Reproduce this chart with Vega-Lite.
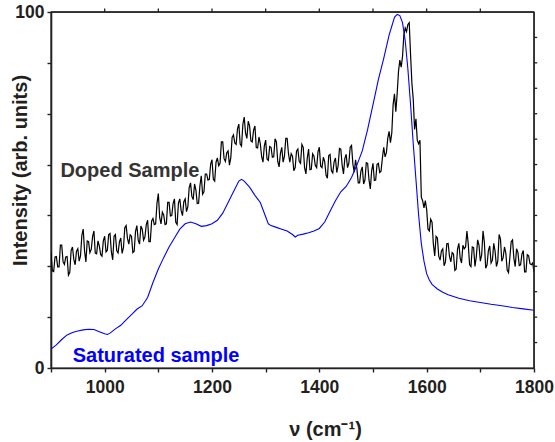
{
  "$schema": "https://vega.github.io/schema/vega-lite/v6.json",
  "width": 483,
  "height": 356,
  "autosize": {"type": "none"},
  "padding": {"left": 51, "top": 12, "right": 21, "bottom": 74},
  "background": "white",
  "config": {
    "view": {"stroke": "#222222", "strokeWidth": 1.4},
    "font": "Liberation Sans",
    "axis": {
      "grid": false,
      "domainColor": "#222222",
      "domainWidth": 1.6,
      "tickColor": "#222222",
      "tickWidth": 1.4,
      "tickSize": 4,
      "labelFont": "Liberation Sans",
      "labelFontWeight": "bold",
      "labelFontSize": 17.5,
      "labelColor": "#231f20",
      "labelOverlap": false,
      "labelFlush": false,
      "labelBound": false,
      "titleFont": "Liberation Sans",
      "titleFontWeight": "bold",
      "titleFontSize": 20,
      "titleColor": "#231f20"
    }
  },
  "datasets": {
    "doped": [
      {"x":900,"y":32.5},{"x":905,"y":27.1},{"x":910,"y":31.3},{"x":915,"y":28.4},{"x":920,"y":34.5},{"x":925,"y":29.1},{"x":930,"y":31.3},{"x":935,"y":26.9},{"x":940,"y":34},{"x":945,"y":29},
      {"x":950,"y":33.5},{"x":955,"y":31.5},{"x":960,"y":39},{"x":965,"y":29.8},{"x":970,"y":35.5},{"x":975,"y":33.3},{"x":980,"y":38.5},{"x":985,"y":32.1},{"x":990,"y":34.3},{"x":995,"y":31.4},
      {"x":1000,"y":37},{"x":1005,"y":33.1},{"x":1010,"y":37.8},{"x":1015,"y":30.4},{"x":1020,"y":37.5},{"x":1025,"y":32.3},{"x":1030,"y":36.5},{"x":1035,"y":33.8},{"x":1040,"y":40},{"x":1045,"y":34.8},
      {"x":1050,"y":37},{"x":1055,"y":32.8},{"x":1060,"y":40},{"x":1065,"y":34.8},{"x":1070,"y":39},{"x":1075,"y":36.8},{"x":1080,"y":41.5},{"x":1085,"y":35.5},{"x":1090,"y":42},{"x":1095,"y":40.5},
      {"x":1100,"y":49},{"x":1105,"y":40.5},{"x":1110,"y":43},{"x":1115,"y":40.5},{"x":1120,"y":46.5},{"x":1125,"y":42.8},{"x":1130,"y":47.5},{"x":1135,"y":40.3},{"x":1140,"y":47.5},{"x":1145,"y":42.8},
      {"x":1150,"y":47.5},{"x":1155,"y":45.3},{"x":1160,"y":52},{"x":1165,"y":47.3},{"x":1170,"y":50},{"x":1175,"y":46.3},{"x":1180,"y":54},{"x":1185,"y":49.5},{"x":1190,"y":54.5},{"x":1195,"y":53},
      {"x":1200,"y":58.5},{"x":1205,"y":52.5},{"x":1210,"y":59},{"x":1215,"y":57.5},{"x":1220,"y":63.5},{"x":1225,"y":58},{"x":1230,"y":61},{"x":1235,"y":59},{"x":1240,"y":65.5},{"x":1245,"y":62.8},
      {"x":1250,"y":68.5},{"x":1255,"y":62.3},{"x":1260,"y":70.5},{"x":1265,"y":64.5},{"x":1270,"y":68},{"x":1275,"y":63.5},{"x":1280,"y":68},{"x":1285,"y":61.8},{"x":1290,"y":63},{"x":1295,"y":57.8},
      {"x":1300,"y":64},{"x":1305,"y":58.3},{"x":1310,"y":62},{"x":1315,"y":59.3},{"x":1320,"y":63.5},{"x":1325,"y":56.5},{"x":1330,"y":62},{"x":1335,"y":59.5},{"x":1340,"y":64.5},{"x":1345,"y":57.8},
      {"x":1350,"y":59.5},{"x":1355,"y":56.3},{"x":1360,"y":61.5},{"x":1365,"y":57.5},{"x":1370,"y":62},{"x":1375,"y":54.5},{"x":1380,"y":61.5},{"x":1385,"y":55.8},{"x":1390,"y":59.5},{"x":1395,"y":56.3},
      {"x":1400,"y":62},{"x":1405,"y":56.3},{"x":1410,"y":58},{"x":1415,"y":53.3},{"x":1420,"y":60},{"x":1425,"y":54.8},{"x":1430,"y":59},{"x":1435,"y":56.8},{"x":1440,"y":61.5},{"x":1445,"y":54.5},
      {"x":1450,"y":60},{"x":1455,"y":57.5},{"x":1460,"y":62.5},{"x":1465,"y":55},{"x":1470,"y":56},{"x":1475,"y":52},{"x":1480,"y":56.5},{"x":1485,"y":52.8},{"x":1490,"y":57.5},{"x":1495,"y":50.3},
      {"x":1500,"y":57.5},{"x":1505,"y":52.8},{"x":1510,"y":57.5},{"x":1515,"y":55.3},{"x":1520,"y":62},{"x":1525,"y":60.5},{"x":1530,"y":66.5},{"x":1535,"y":66},{"x":1540,"y":77},{"x":1545,"y":77},
      {"x":1550,"y":86.5},{"x":1555,"y":87.5},{"x":1560,"y":95.5},{"x":1565,"y":96.5},{"x":1570,"y":88},{"x":1575,"y":75.5},{"x":1580,"y":70},{"x":1585,"y":63},{"x":1590,"y":48},{"x":1595,"y":45},
      {"x":1600,"y":44.5},{"x":1605,"y":38.5},{"x":1610,"y":41},{"x":1615,"y":31.5},{"x":1620,"y":36.5},{"x":1625,"y":30.3},{"x":1630,"y":33.5},{"x":1635,"y":29.8},{"x":1640,"y":35},{"x":1645,"y":29.8},
      {"x":1650,"y":32},{"x":1655,"y":27.8},{"x":1660,"y":35},{"x":1665,"y":29.5},{"x":1670,"y":33.5},{"x":1675,"y":38.5},{"x":1680,"y":29},{"x":1685,"y":34},{"x":1690,"y":28.5},{"x":1695,"y":36},
      {"x":1700,"y":30},{"x":1705,"y":38.5},{"x":1710,"y":28},{"x":1715,"y":33},{"x":1720,"y":29.5},{"x":1725,"y":35},{"x":1730,"y":28.5},{"x":1735,"y":37.5},{"x":1740,"y":30},{"x":1745,"y":34},
      {"x":1750,"y":27.5},{"x":1755,"y":31},{"x":1760,"y":36},{"x":1765,"y":28.5},{"x":1770,"y":32.5},{"x":1775,"y":29},{"x":1780,"y":33},{"x":1785,"y":27},{"x":1790,"y":31.5},{"x":1795,"y":29},{"x":1800,"y":27},
      {"x":902.5,"y":27.3},{"x":907.5,"y":31.2},{"x":912.5,"y":28.4},{"x":917.5,"y":34.5},{"x":922.5,"y":29.8},{"x":927.5,"y":31.2},{"x":932.5,"y":26.1},{"x":937.5,"y":33},{"x":942.5,"y":30.5},{"x":947.5,"y":32.8},
      {"x":952.5,"y":30},{"x":957.5,"y":37.3},{"x":962.5,"y":32.9},{"x":967.5,"y":35.7},{"x":972.5,"y":32.4},{"x":977.5,"y":36.9},{"x":982.5,"y":32.3},{"x":987.5,"y":35.7},{"x":992.5,"y":31.9},{"x":997.5,"y":35.7},
      {"x":1002.5,"y":32.6},{"x":1007.5,"y":37.5},{"x":1012.5,"y":32.6},{"x":1017.5,"y":37},{"x":1022.5,"y":32.9},{"x":1027.5,"y":35.4},{"x":1032.5,"y":32.2},{"x":1037.5,"y":39.4},{"x":1042.5,"y":36.4},{"x":1047.5,"y":37.4},
      {"x":1052.5,"y":32.4},{"x":1057.5,"y":38.4},{"x":1062.5,"y":35.9},{"x":1067.5,"y":39.9},{"x":1072.5,"y":35.9},{"x":1077.5,"y":40.2},{"x":1082.5,"y":35.5},{"x":1087.5,"y":41.3},{"x":1092.5,"y":40.3},{"x":1097.5,"y":46.3},
      {"x":1102.5,"y":42.3},{"x":1107.5,"y":43.8},{"x":1112.5,"y":40.3},{"x":1117.5,"y":46.5},{"x":1122.5,"y":42.7},{"x":1127.5,"y":46.2},{"x":1132.5,"y":40.9},{"x":1137.5,"y":46.4},{"x":1142.5,"y":44.2},{"x":1147.5,"y":46.7},
      {"x":1152.5,"y":43.9},{"x":1157.5,"y":50.7},{"x":1162.5,"y":48.2},{"x":1167.5,"y":51.7},{"x":1172.5,"y":46.2},{"x":1177.5,"y":51.2},{"x":1182.5,"y":48.8},{"x":1187.5,"y":54.5},{"x":1192.5,"y":52.8},{"x":1197.5,"y":57.3},
      {"x":1202.5,"y":53},{"x":1207.5,"y":57.8},{"x":1212.5,"y":56.8},{"x":1217.5,"y":63.5},{"x":1222.5,"y":58.8},{"x":1227.5,"y":60.5},{"x":1232.5,"y":57},{"x":1237.5,"y":64.8},{"x":1242.5,"y":63.2},{"x":1247.5,"y":67.2},
      {"x":1252.5,"y":62.9},{"x":1257.5,"y":68.4},{"x":1262.5,"y":66},{"x":1267.5,"y":69.3},{"x":1272.5,"y":63.8},{"x":1277.5,"y":66.8},{"x":1282.5,"y":61.9},{"x":1287.5,"y":64.9},{"x":1292.5,"y":59.4},{"x":1297.5,"y":62.4},
      {"x":1302.5,"y":58.7},{"x":1307.5,"y":62.2},{"x":1312.5,"y":59.2},{"x":1317.5,"y":64.4},{"x":1322.5,"y":58},{"x":1327.5,"y":60.3},{"x":1332.5,"y":57.8},{"x":1337.5,"y":64.5},{"x":1342.5,"y":60.2},{"x":1347.5,"y":60.2},
      {"x":1352.5,"y":55.4},{"x":1357.5,"y":60.9},{"x":1362.5,"y":58},{"x":1367.5,"y":62.8},{"x":1372.5,"y":56.3},{"x":1377.5,"y":59},{"x":1382.5,"y":55.7},{"x":1387.5,"y":60.2},{"x":1392.5,"y":56.9},{"x":1397.5,"y":60.7},
      {"x":1402.5,"y":56.7},{"x":1407.5,"y":59.2},{"x":1412.5,"y":54.2},{"x":1417.5,"y":59.7},{"x":1422.5,"y":55.4},{"x":1427.5,"y":57.9},{"x":1432.5,"y":54.9},{"x":1437.5,"y":61.7},{"x":1442.5,"y":57},{"x":1447.5,"y":58.8},
      {"x":1452.5,"y":56.3},{"x":1457.5,"y":62},{"x":1462.5,"y":57.3},{"x":1467.5,"y":58.5},{"x":1472.5,"y":52},{"x":1477.5,"y":55.3},{"x":1482.5,"y":51.7},{"x":1487.5,"y":57.7},{"x":1492.5,"y":52.9},{"x":1497.5,"y":55.4},
      {"x":1502.5,"y":52.7},{"x":1507.5,"y":57.2},{"x":1512.5,"y":54.9},{"x":1517.5,"y":59},{"x":1522.5,"y":59.3},{"x":1527.5,"y":64.5},{"x":1532.5,"y":63.3},{"x":1537.5,"y":74},{"x":1542.5,"y":72},{"x":1547.5,"y":83.3},
      {"x":1552.5,"y":84.5},{"x":1557.5,"y":93.5},{"x":1562.5,"y":94.5},{"x":1567.5,"y":97},{"x":1572.5,"y":80},{"x":1577.5,"y":67},{"x":1582.5,"y":64},{"x":1587.5,"y":64},{"x":1592.5,"y":47},{"x":1597.5,"y":47},
      {"x":1602.5,"y":39},{"x":1607.5,"y":41.8},{"x":1612.5,"y":34.8},{"x":1617.5,"y":37},{"x":1622.5,"y":31.4},{"x":1627.5,"y":32.9},{"x":1632.5,"y":28.7},{"x":1637.5,"y":34.9},{"x":1642.5,"y":31.4},{"x":1647.5,"y":32.4},
      {"x":1652.5,"y":27.4},{"x":1657.5,"y":33.4},{"x":1662.5,"y":30.8},{"x":1667.5,"y":34.5},{"x":1672.5,"y":34},{"x":1677.5,"y":34.8},{"x":1682.5,"y":28.5},{"x":1687.5,"y":33.8},{"x":1692.5,"y":31.3},{"x":1697.5,"y":34.5},
      {"x":1702.5,"y":31.8},{"x":1707.5,"y":35.3},{"x":1712.5,"y":29},{"x":1717.5,"y":34.3},{"x":1722.5,"y":30.3},{"x":1727.5,"y":32.8},{"x":1732.5,"y":30},{"x":1737.5,"y":36.3},{"x":1742.5,"y":31},{"x":1747.5,"y":32.3},
      {"x":1752.5,"y":26.8},{"x":1757.5,"y":35.5},{"x":1762.5,"y":30.8},{"x":1767.5,"y":33.5},{"x":1772.5,"y":28.8},{"x":1777.5,"y":32},{"x":1782.5,"y":27},{"x":1787.5,"y":31.8},{"x":1792.5,"y":29.3},{"x":1797.5,"y":29.5}
    ],
    "sat": [
      {"x":900,"y":5.3},{"x":910,"y":6.5},{"x":920,"y":8.0},{"x":930,"y":9.3},{"x":940,"y":10.0},{"x":950,"y":10.4},{"x":960,"y":10.7},{"x":970,"y":10.9},{"x":980,"y":10.8},{"x":990,"y":10.2},
      {"x":1000,"y":9.6},{"x":1005,"y":9.4},{"x":1010,"y":9.8},{"x":1020,"y":11.0},{"x":1030,"y":12.0},{"x":1040,"y":13.5},{"x":1050,"y":15.0},{"x":1060,"y":16.5},{"x":1070,"y":17.5},{"x":1080,"y":19.8},
      {"x":1090,"y":24.0},{"x":1100,"y":27.8},{"x":1110,"y":31.0},{"x":1120,"y":34.0},{"x":1130,"y":36.5},{"x":1140,"y":39.0},{"x":1150,"y":40.5},{"x":1160,"y":41.0},{"x":1170,"y":40.5},{"x":1180,"y":39.8},
      {"x":1190,"y":40.0},{"x":1200,"y":40.5},{"x":1210,"y":41.5},{"x":1220,"y":43.5},{"x":1230,"y":46.5},{"x":1240,"y":49.5},{"x":1250,"y":52.5},{"x":1255,"y":53.0},{"x":1260,"y":52.5},{"x":1270,"y":50.8},
      {"x":1280,"y":48.5},{"x":1290,"y":46.5},{"x":1300,"y":42.5},{"x":1305,"y":40.5},{"x":1310,"y":40.0},{"x":1320,"y":39.5},{"x":1330,"y":39.0},{"x":1340,"y":38.5},{"x":1350,"y":37.5},{"x":1355,"y":36.8},
      {"x":1360,"y":37.3},{"x":1370,"y":37.6},{"x":1380,"y":38.0},{"x":1390,"y":38.5},{"x":1400,"y":39.2},{"x":1410,"y":41.0},{"x":1420,"y":44.0},{"x":1430,"y":47.0},{"x":1440,"y":49.5},{"x":1450,"y":51.0},
      {"x":1460,"y":53.5},{"x":1470,"y":57.0},{"x":1480,"y":61.0},{"x":1490,"y":67.0},{"x":1500,"y":74.0},{"x":1510,"y":81.0},{"x":1520,"y":87.0},{"x":1530,"y":93.5},{"x":1540,"y":98.5},{"x":1545,"y":99.3},
      {"x":1550,"y":99.0},{"x":1555,"y":97.0},{"x":1560,"y":92.0},{"x":1565,"y":84.0},{"x":1570,"y":74.0},{"x":1575,"y":63.0},{"x":1580,"y":53.0},{"x":1585,"y":43.0},{"x":1590,"y":35.0},{"x":1595,"y":30.0},
      {"x":1600,"y":26.5},{"x":1605,"y":24.7},{"x":1610,"y":23.5},{"x":1620,"y":22.2},{"x":1630,"y":21.3},{"x":1640,"y":20.6},{"x":1660,"y":19.6},{"x":1680,"y":18.9},{"x":1700,"y":18.4},{"x":1720,"y":17.9},
      {"x":1740,"y":17.5},{"x":1760,"y":17.0},{"x":1780,"y":16.6},{"x":1800,"y":16.2}
    ],
    "labels": [
      {"x":917.5,"y":53.6,"t":"Doped Sample","s":"doped"},
      {"x":940.4,"y":1.6,"t":"Saturated sample","s":"sat"}
    ],
    "ticks": [
      {"x":900,"x2":1800,"y":100,"y2":100},
      {"x":1800,"x2":1800,"y":0,"y2":100},
      {"x":1000,"x2":1000,"y":100,"y2":101},{"x":1100,"x2":1100,"y":100,"y2":101},{"x":1200,"x2":1200,"y":100,"y2":101},{"x":1300,"x2":1300,"y":100,"y2":101},
      {"x":1400,"x2":1400,"y":100,"y2":101},{"x":1500,"x2":1500,"y":100,"y2":101},{"x":1600,"x2":1600,"y":100,"y2":101},{"x":1700,"x2":1700,"y":100,"y2":101},
      {"x":1800,"x2":1806,"y":7.142857,"y2":7.142857},{"x":1800,"x2":1806,"y":14.285714,"y2":14.285714},{"x":1800,"x2":1806,"y":21.428571,"y2":21.428571},
      {"x":1800,"x2":1806,"y":28.571429,"y2":28.571429},{"x":1800,"x2":1806,"y":35.714286,"y2":35.714286},{"x":1800,"x2":1806,"y":42.857143,"y2":42.857143},
      {"x":1800,"x2":1806,"y":50,"y2":50},{"x":1800,"x2":1806,"y":57.142857,"y2":57.142857},{"x":1800,"x2":1806,"y":64.285714,"y2":64.285714},
      {"x":1800,"x2":1806,"y":71.428571,"y2":71.428571},{"x":1800,"x2":1806,"y":78.571429,"y2":78.571429},{"x":1800,"x2":1806,"y":85.714286,"y2":85.714286},
      {"x":1800,"x2":1806,"y":92.857143,"y2":92.857143}
    ]
  },
  "layer": [
    {
      "data": {"name": "doped"},
      "mark": {"type": "line", "color": "#000000", "strokeWidth": 1.2, "clip": true},
      "encoding": {
        "x": {"field": "x", "type": "quantitative", "scale": {"domain": [900, 1800], "nice": false, "zero": false},
          "axis": {"orient": "bottom", "values": [900,1000,1100,1200,1300,1400,1500,1600,1700,1800],
            "labelExpr": "datum.value % 200 == 0 ? format(datum.value, 'd') : ''", "labelPadding": 6,
            "title": "ν (cm⁻¹)", "titleX": 274, "titleY": 67, "titleBaseline": "alphabetic", "titleAlign": "center"}},
        "y": {"field": "y", "type": "quantitative", "scale": {"domain": [0, 100], "nice": false},
          "axis": {"orient": "left", "values": [0,7.142857,14.285714,21.428571,28.571429,35.714286,42.857143,50,57.142857,64.285714,71.428571,78.571429,85.714286,92.857143,100],
            "labelExpr": "datum.value == 0 || datum.value == 100 ? format(datum.value, 'd') : ''", "labelPadding": 3,
            "title": "Intensity (arb. units)", "titleX": -31, "titleY": 158, "titleAngle": -90, "titleAlign": "center", "titleBaseline": "middle"}}
      }
    },
    {
      "data": {"name": "sat"},
      "mark": {"type": "line", "color": "#0000ff", "strokeWidth": 1.1, "clip": true},
      "encoding": {
        "x": {"field": "x", "type": "quantitative"},
        "y": {"field": "y", "type": "quantitative"}
      }
    },
    {
      "data": {"name": "ticks"},
      "mark": {"type": "rule", "color": "#222222", "strokeWidth": 1.3, "clip": false},
      "encoding": {
        "x": {"field": "x", "type": "quantitative"},
        "x2": {"field": "x2"},
        "y": {"field": "y", "type": "quantitative"},
        "y2": {"field": "y2"}
      }
    },
    {
      "data": {"name": "labels"},
      "transform": [{"filter": "datum.s == 'doped'"}],
      "mark": {"type": "text", "align": "left", "baseline": "alphabetic", "font": "Liberation Sans", "fontWeight": "bold", "fontSize": 20, "color": "#333333"},
      "encoding": {
        "x": {"field": "x", "type": "quantitative"},
        "y": {"field": "y", "type": "quantitative"},
        "text": {"field": "t"}
      }
    },
    {
      "data": {"name": "labels"},
      "transform": [{"filter": "datum.s == 'sat'"}],
      "mark": {"type": "text", "align": "left", "baseline": "alphabetic", "font": "Liberation Sans", "fontWeight": "bold", "fontSize": 20, "color": "#0000ff"},
      "encoding": {
        "x": {"field": "x", "type": "quantitative"},
        "y": {"field": "y", "type": "quantitative"},
        "text": {"field": "t"}
      }
    }
  ]
}
